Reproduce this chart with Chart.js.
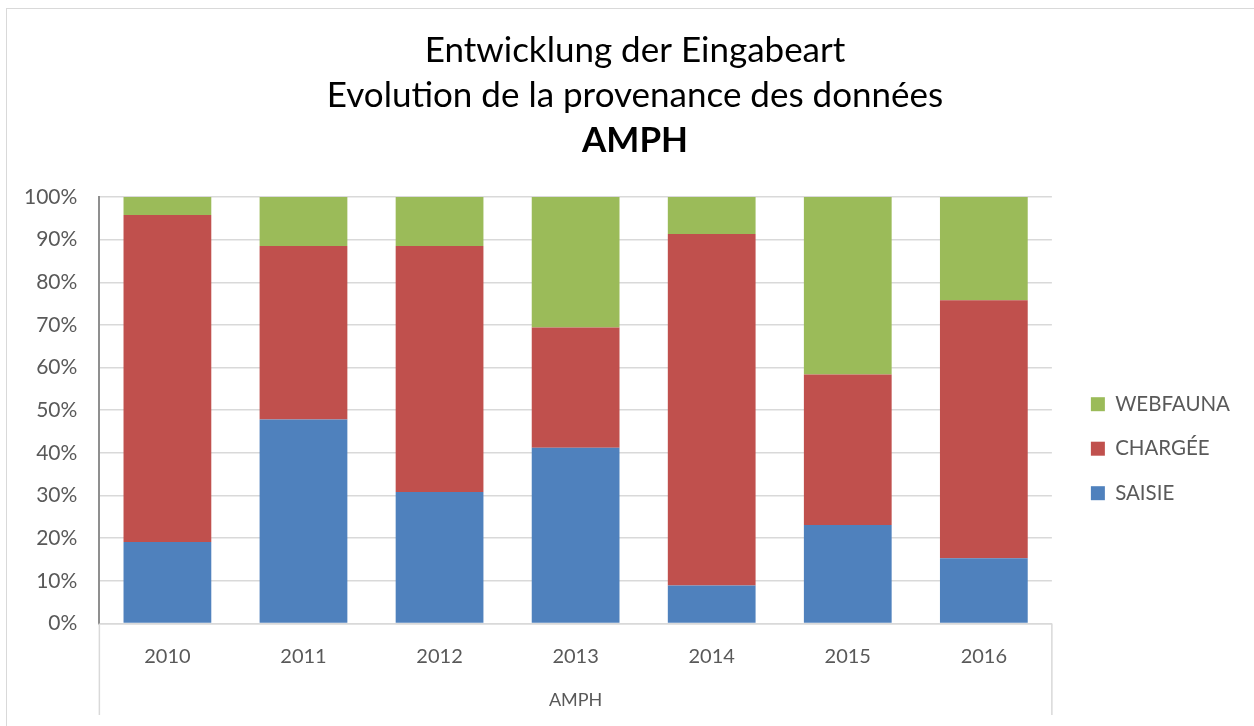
<!DOCTYPE html>
<html>
<head>
<meta charset="utf-8">
<script src="https://cdn.jsdelivr.net/npm/chart.js@4/dist/chart.umd.min.js"></script>
<style>
  html, body { margin: 0; padding: 0; background: #fff; }
  #wrap { position: relative; width: 1254px; height: 726px; overflow: hidden; }
  #frame { position: absolute; left: 6px; top: 8px; width: 1300px; height: 800px; border: 1px solid #d9d9d9; box-sizing: border-box; pointer-events: none; }
  canvas { position: absolute; left: 0; top: 0; }
</style>
</head>
<body>
<div id="wrap">
  <canvas id="c" width="1254" height="726"></canvas>
  <div id="frame"></div>
</div>
<script>
const categories = ['2010', '2011', '2012', '2013', '2014', '2015', '2016'];
const saisie   = [19.1, 47.8, 30.8, 41.2, 8.9, 23.1, 15.3];
const chargee  = [76.7, 40.7, 57.7, 28.2, 82.4, 35.3, 60.5];
const webfauna = [4.2, 11.5, 11.5, 30.6, 8.7, 41.6, 24.2];
const yTicks = [0, 10, 20, 30, 40, 50, 60, 70, 80, 90, 100];
const titleLines = ['Entwicklung der Eingabeart', 'Evolution de la provenance des données'];
const subtitleText = 'AMPH';
const axisTitle = 'AMPH';

const FONT = 'Lato, "Open Sans", sans-serif';
const GREY = '#595959';

const boxLines = {
  id: 'boxLines',
  afterLayout(chart) {
    chart.boxes.forEach(b => {
      if (b.position === 'top') { b.left = 16; b.right = chart.width; b.width = b.right - b.left; }
      if (b === chart.legend) { b.left += 15; b.right += 15; }
    });
  },
  afterDraw(chart) {
    const ctx = chart.ctx;
    const a = chart.chartArea;
    const xs = chart.scales.x;
    ctx.save();
    ctx.strokeStyle = '#d9d9d9';
    ctx.lineWidth = 1.5;
    ctx.beginPath();
    ctx.moveTo(a.left, a.bottom);
    ctx.lineTo(a.left, xs.bottom);
    ctx.moveTo(a.right, a.bottom);
    ctx.lineTo(a.right, xs.bottom);
    ctx.stroke();
    ctx.restore();
  }
};

new Chart(document.getElementById('c'), {
  type: 'bar',
  data: {
    labels: categories,
    datasets: [
      { label: 'SAISIE', data: saisie, backgroundColor: '#4f81bd' },
      { label: 'CHARGÉE', data: chargee, backgroundColor: '#c0504d' },
      { label: 'WEBFAUNA', data: webfauna, backgroundColor: '#9bbb59' }
    ]
  },
  options: {
    responsive: false,
    animation: false,
    layout: { padding: { left: 2, right: 29, top: 28, bottom: 11 } },
    datasets: { bar: { categoryPercentage: 1, barPercentage: 0.645 } },
    scales: {
      x: {
        stacked: true,
        grid: { display: false, drawTicks: false },
        border: { color: '#d9d9d9', width: 1.5 },
        ticks: { color: GREY, font: { family: FONT, size: 20 }, padding: 21 },
        title: { display: true, text: axisTitle, color: GREY, font: { family: FONT, size: 18 }, padding: { top: 0, bottom: 4 } }
      },
      y: {
        stacked: true,
        min: 0, max: 100,
        afterBuildTicks(scale) { scale.ticks = yTicks.map(v => ({ value: v })); },
        grid: { color: '#d9d9d9', lineWidth: 1.5, drawTicks: false },
        border: { color: '#8f8f8f', width: 2 },
        ticks: { color: GREY, font: { family: FONT, size: 21 }, padding: 22, callback: v => v + '%' }
      }
    },
    plugins: {
      title: {
        display: true,
        text: titleLines,
        color: '#000',
        font: { family: FONT, size: 35, weight: 'normal', lineHeight: 1.286 },
        padding: { top: 0, bottom: 0 }
      },
      subtitle: {
        display: true,
        text: subtitleText,
        color: '#000',
        font: { family: FONT, size: 35, weight: 'bold', lineHeight: 1.286 },
        padding: { top: 0, bottom: 34 }
      },
      legend: {
        position: 'right',
        reverse: true,
        title: { display: true, text: ' ', padding: { top: 140, bottom: 0 } },
        labels: { color: GREY, font: { family: FONT, size: 20.5 }, boxWidth: 14, boxHeight: 14, padding: 24 }
      },
      tooltip: { enabled: false }
    }
  },
  plugins: [boxLines]
});
</script>
</body>
</html>
